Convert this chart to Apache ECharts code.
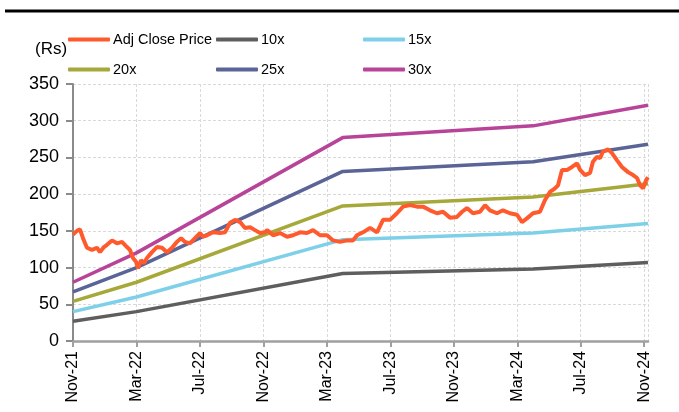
<!DOCTYPE html>
<html>
<head>
<meta charset="utf-8">
<script src="https://cdn.jsdelivr.net/npm/echarts@6/dist/echarts.min.js"></script>
<style>html,body{margin:0;padding:0;background:#fff}#c{width:679px;height:412px}</style>
</head>
<body>
<div id="c"></div>
<script>
// x positions are months since Nov-21
const tickLabels = ['Nov-21','Mar-22','Jul-22','Nov-22','Mar-23','Jul-23','Nov-23','Mar-24','Jul-24','Nov-24'];
const bandMonths = [0, 4, 17, 29, 36.24];
const band10 = [27, 40, 92, 98, 107];
const band15 = [40, 60, 138, 147, 160];
const band20 = [54, 80, 184, 196, 214];
const band25 = [67, 100, 231, 244, 268];
const band30 = [80, 120, 277, 293, 321];
const priceMonths = [0.00,0.25,0.44,0.63,0.88,1.20,1.51,1.70,1.95,2.14,2.46,2.77,3.09,3.40,3.59,3.78,3.97,4.10,4.29,4.47,4.66,4.98,5.29,5.61,5.92,6.24,6.55,6.81,7.06,7.37,7.69,8.00,8.19,8.45,8.82,9.27,9.58,9.90,10.21,10.53,10.84,11.16,11.47,11.79,12.10,12.23,12.61,13.05,13.49,13.87,14.31,14.75,15.13,15.57,16.01,16.39,16.83,17.27,17.65,17.90,18.28,18.72,19.16,19.54,19.98,20.42,20.80,21.24,21.68,22.06,22.50,22.94,23.32,23.76,24.20,24.52,24.83,25.21,25.65,25.97,26.28,26.72,27.10,27.54,27.98,28.30,28.61,28.99,29.43,29.75,30.06,30.38,30.57,30.82,31.14,31.45,31.77,31.96,32.27,32.59,32.77,33.03,33.22,33.40,33.72,33.97,34.29,34.60,34.98,35.30,35.55,35.74,35.93,36.12,36.24];
const priceValues = [145,150,152,140,127,124,127,121,128,131,137,133,135,128,124,113,108,99,110,106,113,121,128,127,121,127,135,140,135,133,140,147,142,144,148,147,148,161,165,162,154,155,151,147,148,151,144,147,142,144,148,147,151,144,144,137,135,137,137,144,148,154,148,165,165,174,183,185,183,183,178,174,176,168,169,176,181,174,176,185,178,174,178,174,172,162,167,174,176,192,203,208,212,233,233,237,242,233,226,229,244,251,249,258,261,256,246,237,230,226,222,212,208,219,223];

const FONT = "'Liberation Sans',Arial,sans-serif";
const pair = (xs, ys) => xs.map((x, i) => [x, ys[i]]);

const seriesDefs = [
  {name: '10x', color: '#5e5e5e', data: band10},
  {name: '15x', color: '#7dd0e8', data: band15},
  {name: '20x', color: '#a6a83a', data: band20},
  {name: '25x', color: '#5a6497', data: band25},
  {name: '30x', color: '#b8449a', data: band30}
];

const series = seriesDefs.map(s => ({
  name: s.name, type: 'line', showSymbol: false, symbol: 'none',
  data: pair(bandMonths, s.data), color: s.color,
  lineStyle: {width: 3.5, color: s.color}
}));
series.push({
  name: 'Adj Close Price', type: 'line', showSymbol: false, symbol: 'none',
  data: pair(priceMonths, priceValues), color: '#ff5a2d',
  lineStyle: {width: 4, color: '#ff5a2d'}
});

const legendPos = [
  ['Adj Close Price', 68, 32], ['10x', 216, 32], ['15x', 363, 32],
  ['20x', 68, 62], ['25x', 216, 62], ['30x', 363, 62]
];
const legends = legendPos.map(p => ({
  data: [p[0]], left: p[1], top: p[2], padding: 0,
  icon: 'roundRect', itemWidth: 42, itemHeight: 4, itemGap: 3,
  textStyle: {fontFamily: FONT, fontSize: 14.5, color: '#000', padding: [0,0,0,-2]}
}));

const chart = echarts.init(document.getElementById('c'), null, {renderer: 'canvas'});
chart.setOption({
  animation: false,
  backgroundColor: '#fff',
  grid: {left: 73, right: 31, top: 84, bottom: 71, containLabel: false},
  legend: legends,
  graphic: [
    {type: 'line', shape: {x1: 5, y1: 11, x2: 679, y2: 11}, style: {stroke: '#000', lineWidth: 3}},
    {type: 'text', left: 35, top: 41, style: {text: '(Rs)', font: '17px ' + FONT, fill: '#000'}}
  ],
  xAxis: {
    type: 'value', min: 0, max: 36.24, interval: 4,
    axisLine: {show: true, lineStyle: {color: '#a0a0a0', width: 2.5}},
    axisTick: {show: true, length: 6, lineStyle: {color: '#a0a0a0', width: 2}},
    splitLine: {show: true, lineStyle: {color: '#d9d9d9', type: [3, 2], width: 1}},
    axisLabel: {
      rotate: 90, margin: 10, fontFamily: FONT, fontSize: 16, color: '#000',
      showMaxLabel: false,
      formatter: v => (Math.abs(v / 4 - Math.round(v / 4)) < 1e-6 ? (tickLabels[Math.round(v / 4)] || '') : '')
    }
  },
  yAxis: {
    type: 'value', min: 0, max: 350, interval: 50,
    axisLine: {show: true, lineStyle: {color: '#8a8a8a', width: 2}},
    axisTick: {show: true, length: 7, lineStyle: {color: '#8a8a8a', width: 2}},
    splitLine: {show: true, lineStyle: {color: '#d9d9d9', type: [3, 2], width: 1}},
    axisLabel: {margin: 14, fontFamily: FONT, fontSize: 18, color: '#000'}
  },
  series: series
});
</script>
</body>
</html>
